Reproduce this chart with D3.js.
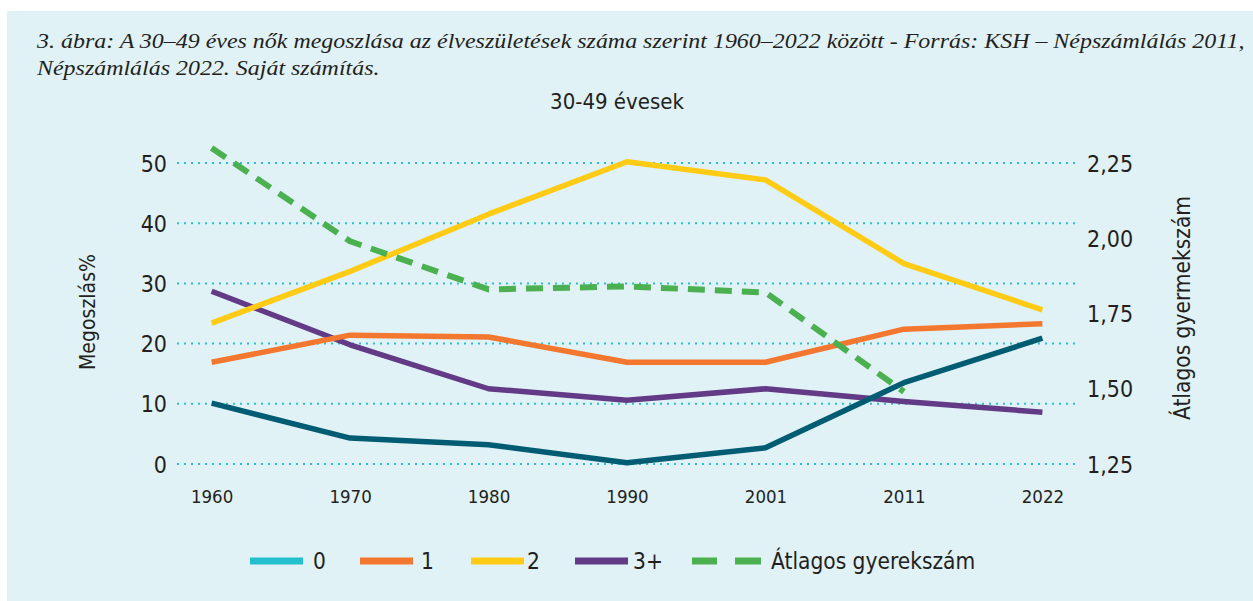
<!DOCTYPE html>
<html><head><meta charset="utf-8">
<script src="https://cdn.jsdelivr.net/npm/d3@7"></script>
<style>
html,body{margin:0;padding:0;background:#fff;}
svg{display:block;}
.sans{font-family:"DejaVu Sans Condensed","DejaVu Sans",sans-serif;fill:#231f20;}
</style></head>
<body>
<svg id="c" width="1253" height="601"></svg>
<script>
const years = ["1960","1970","1980","1990","2001","2011","2022"];
const zero = [10.1, 4.3, 3.2, 0.2, 2.7, 13.5, 20.9];
const one = [16.9, 21.4, 21.1, 16.9, 16.9, 22.4, 23.3];
const two = [23.4, 32.0, 41.5, 50.2, 47.2, 33.3, 25.6];
const threePlus = [28.7, 19.8, 12.5, 10.6, 12.5, 10.4, 8.6];
const avgChildren = [2.30, 1.99, 1.83, 1.84, 1.82, 1.49];
const leftTicks = [0, 10, 20, 30, 40, 50];
const rightTicks = [1.25, 1.5, 1.75, 2.0, 2.25];
const seriesNames = ["0", "1", "2", "3+", "Átlagos gyerekszám"];
const titleLines = ["3. ábra: A 30–49 éves nők megoszlása az élveszületések száma szerint 1960–2022 között - Forrás: KSH – Népszámlálás 2011,",
                    "Népszámlálás 2022. Saját számítás."];
const subtitle = "30-49 évesek";

const svg = d3.select("#c");
svg.append("rect").attr("x",7).attr("y",11).attr("width",1253-7).attr("height",601-11).attr("fill","#e0f2f5");

const x = d3.scalePoint().domain(years).range([177,1077]).padding(0.25);
const yL = d3.scaleLinear().domain([0,50]).range([464,163]);
const yR = d3.scaleLinear().domain([1.25,2.25]).range([464,163]);

// title (horizontally scaled to the reference's wider serif)
const tg = svg.append("g");
const tt = tg.selectAll("text").data(titleLines).join("text")
  .attr("x",0).attr("y",(d,i)=>48+i*27)
  .attr("font-family","'Liberation Serif','DejaVu Serif',serif")
  .attr("font-style","italic").attr("font-size",22).attr("fill","#231f20")
  .text(d=>d);
const w0 = tt.nodes()[0].getComputedTextLength();
tg.attr("transform",`translate(37,0) scale(${1208/w0},1)`);

svg.append("text").attr("class","sans").attr("x",617).attr("y",109)
  .attr("text-anchor","middle").attr("font-size",22).text(subtitle);

// grid
const grid = svg.append("g");
grid.selectAll("line").data(leftTicks).join("line")
  .attr("x1",177).attr("x2",1077).attr("y1",d=>yL(d)).attr("y2",d=>yL(d))
  .attr("stroke","#27c2d2").attr("stroke-width",2).attr("stroke-dasharray","2,5");

// left axis
const axL = svg.append("g").attr("transform","translate(167,0)")
  .call(d3.axisLeft(yL).tickValues(leftTicks).tickSize(0).tickPadding(0));
axL.select(".domain").remove();
axL.selectAll("text").attr("class","sans").attr("font-size",23).attr("dy","0.35em");

const fmt = d => d.toFixed(2).replace(".", ",");
const axR = svg.append("g").attr("transform","translate(1087,0)")
  .call(d3.axisRight(yR).tickValues(rightTicks).tickFormat(fmt).tickSize(0).tickPadding(0));
axR.select(".domain").remove();
axR.selectAll("text").attr("class","sans").attr("font-size",23).attr("dy","0.35em");

const axB = svg.append("g").attr("transform","translate(0,490)")
  .call(d3.axisBottom(x).tickSize(0).tickPadding(0));
axB.select(".domain").remove();
axB.selectAll("text").attr("class","sans").attr("font-size",18.5).attr("dy","0.71em");

svg.append("text").attr("class","sans").attr("font-size",21).attr("text-anchor","middle")
  .attr("transform","translate(95,312) rotate(-90)").text("Megoszlás%");
svg.append("text").attr("class","sans").attr("font-size",22.5).attr("text-anchor","middle")
  .attr("transform","translate(1190,308) rotate(-90)").text("Átlagos gyermekszám");

// lines
const series = [
  {vals: threePlus, color:"#633a86"},
  {vals: two, color:"#ffcb14"},
  {vals: one, color:"#f3772e"},
  {vals: zero, color:"#005c72"}
];
const line = d3.line().x((d,i)=>x(years[i])).y(d=>yL(d));
svg.append("g").selectAll("path").data(series).join("path")
  .attr("d",d=>line(d.vals)).attr("fill","none").attr("stroke",d=>d.color)
  .attr("stroke-width",5.5).attr("stroke-linejoin","round");

const lineR = d3.line().x((d,i)=>x(years[i])).y(d=>yR(d));
svg.append("path").attr("d",lineR(avgChildren)).attr("fill","none")
  .attr("stroke","#4bb04f").attr("stroke-width",6).attr("stroke-dasharray","17,10")
  .attr("stroke-linejoin","round");

// legend
const legColors = ["#22bfce","#f3772e","#ffcb14","#633a86","#4bb04f"];
const swatchX = [250, 360, 471, 575, 692];
const textX = [313, 421, 527, 633, 771];
const ly = 561;
const leg = svg.append("g");
seriesNames.forEach((n,i)=>{
  const g = leg.append("g");
  if(i<4){
    g.append("rect").attr("x",swatchX[i]).attr("y",ly-3.5).attr("width",53).attr("height",7).attr("fill",legColors[i]);
  } else {
    g.append("rect").attr("x",swatchX[i]).attr("y",ly-3.5).attr("width",25).attr("height",7).attr("fill",legColors[i]);
    g.append("rect").attr("x",swatchX[i]+43).attr("y",ly-3.5).attr("width",26).attr("height",7).attr("fill",legColors[i]);
  }
  g.append("text").attr("class","sans").attr("x",textX[i]).attr("y",ly).attr("dy","0.35em")
    .attr("font-size",22.5).text(n);
});
</script>
</body></html>
